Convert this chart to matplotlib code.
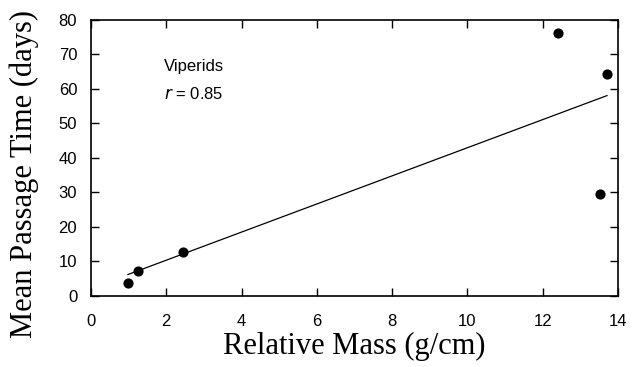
import numpy as np
import matplotlib.pyplot as plt

# data
relMass = [0.98, 1.25, 2.44, 12.41, 13.71, 13.52]
passTime = [3.8, 7.2, 12.8, 76.2, 64.3, 29.6]
xTicks = [0, 2, 4, 6, 8, 10, 12, 14]
yTicks = [0, 10, 20, 30, 40, 50, 60, 70, 80]

# least squares line through the points
slope, icpt = np.polyfit(relMass, passTime, 1)
xl = np.array([min(relMass), max(relMass)])

fig = plt.figure(figsize=(6.41, 3.67), dpi=100)
ax = fig.add_axes([0.142, 0.1935, 0.822, 0.752])
ax.plot(xl, slope * xl + icpt, color='black', lw=0.9)
ax.scatter(relMass, passTime, s=40, color='black', zorder=3)

ax.set_xlim(0, 14)
ax.set_ylim(0, 80)
ax.set_xticks(xTicks)
ax.set_yticks(yTicks)
ax.tick_params(direction='in', top=True, right=True, length=6, width=1,
               labelsize=12)
ax.tick_params(axis='x', pad=13)
ax.tick_params(axis='y', pad=10)
for lab in ax.get_xticklabels() + ax.get_yticklabels():
    lab.set_family('Liberation Sans')
for s in ax.spines.values():
    s.set_linewidth(1.2)

ax.text(1.95, 66.5, 'Viperids', fontsize=12, family='Liberation Sans',
        va='center')
ax.text(1.95, 58.5, r'$\it{r}$ = 0.85', fontsize=12, family='Liberation Sans',
        va='center')

ax.set_xlabel('Relative Mass (g/cm)', fontsize=22, family='Liberation Serif',
              labelpad=2)
ax.set_ylabel('Mean Passage Time (days)', fontsize=22,
              family='Liberation Serif')
ax.yaxis.set_label_coords(-0.098, 0.442)

fig.savefig('out.png', dpi=100)
